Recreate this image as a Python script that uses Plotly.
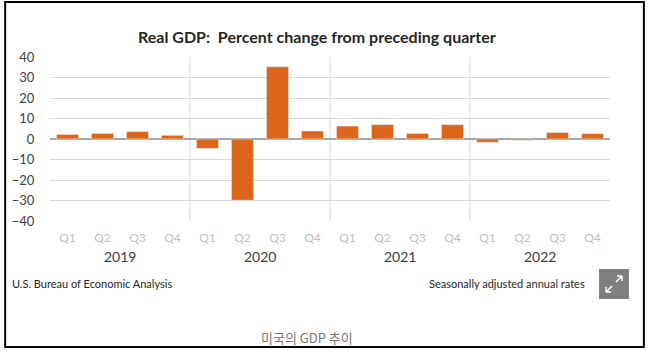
import plotly.graph_objects as go

years = ["2019", "2020", "2021", "2022"]
quarters = ["Q1", "Q2", "Q3", "Q4"]
values = [2.2, 2.7, 3.6, 1.8,
          -4.6, -29.9, 35.3, 3.9,
          6.3, 7.0, 2.7, 7.0,
          -1.6, -0.6, 3.2, 2.6]
y_ticks = [40, 30, 20, 10, 0, -10, -20, -30, -40]

W, H = 649, 351
L, R, T, B = 48, 39, 57, 130
PW, PH = W - L - R, H - T - B

def px(x, y):
    return (x - L) / PW, (H - B - y) / PH

n = len(values)
xs = list(range(n))
labels = [q for _ in years for q in quarters]

fig = go.Figure(go.Bar(x=xs, y=values, marker_color="#DE661C", width=0.63))

FONT = "Lato"
shapes = []
# year separators
for i in range(1, len(years)):
    xb = i * len(quarters) - 0.5
    shapes.append(dict(type="line", xref="x", yref="paper", x0=xb, x1=xb, y0=0, y1=1,
                       line=dict(color="#d9d9d9", width=1), layer="below"))
# border
bx0, by0 = px(3, 347)
bx1, by1 = px(644, 2)
shapes.append(dict(type="rect", xref="paper", yref="paper", x0=bx0, y0=by0, x1=bx1, y1=by1,
                   line=dict(color="black", width=2)))
# expand icon
ix0, iy0 = px(599, 299)
ix1, iy1 = px(629, 269)
shapes.append(dict(type="rect", xref="paper", yref="paper", x0=ix0, y0=iy0, x1=ix1, y1=iy1,
                   fillcolor="#7f7f7f", line=dict(width=0)))
def seg(a, b):
    x0, y0 = px(*a); x1, y1 = px(*b)
    return dict(type="line", xref="paper", yref="paper", x0=x0, y0=y0, x1=x1, y1=y1,
                line=dict(color="white", width=1.5))
shapes += [seg((616, 282), (622, 276)), seg((617, 276), (622, 276)), seg((622, 276), (622, 281)),
           seg((606, 292), (612, 286)), seg((606, 292), (611, 292)), seg((606, 292), (606, 287))]

ann = []
for i, yr in enumerate(years):
    xc = i * len(quarters) + (len(quarters) - 1) / 2
    ann.append(dict(x=xc, y=px(0, 256)[1], xref="x", yref="paper", text=yr, showarrow=False,
                    font=dict(family=FONT, size=14, color="#404040"), yanchor="middle"))
ann.append(dict(x=px(316, 0)[0], y=px(0, 37)[1], xref="paper", yref="paper",
                text="<b>Real GDP:  Percent change from preceding quarter</b>", showarrow=False,
                font=dict(family=FONT, size=16, color="#262626"), yanchor="middle"))
ann.append(dict(x=px(8, 0)[0], y=px(0, 283)[1], xref="paper", yref="paper", xanchor="left",
                text="U.S. Bureau of Economic Analysis", showarrow=False,
                font=dict(family=FONT, size=11, color="#262626"), yanchor="middle"))
ann.append(dict(x=px(587, 0)[0], y=px(0, 283)[1], xref="paper", yref="paper", xanchor="right",
                text="Seasonally adjusted annual rates", showarrow=False,
                font=dict(family=FONT, size=11, color="#262626"), yanchor="middle"))
ann.append(dict(x=px(306, 0)[0], y=px(0, 337)[1], xref="paper", yref="paper",
                text="미국의 GDP 추이", showarrow=False,
                font=dict(family="Noto Sans CJK KR", size=13, color="#777777"), yanchor="middle"))

fig.update_layout(
    width=W, height=H, margin=dict(l=L, r=R, t=T, b=B),
    paper_bgcolor="white", plot_bgcolor="white",
    showlegend=False, shapes=shapes, annotations=ann,
    xaxis=dict(range=[-0.5, n - 0.5], tickvals=xs, ticktext=labels, showgrid=False,
               zeroline=False, ticks="outside", ticklen=6, tickcolor="rgba(0,0,0,0)",
               tickfont=dict(family=FONT, size=12, color="#bfbfbf")),
    yaxis=dict(range=[-40, 40], tickvals=y_ticks, showgrid=True, gridcolor="#d9d9d9",
               gridwidth=1, zeroline=True, zerolinecolor="#a6a6a6", zerolinewidth=1.5,
               ticks="outside", ticklen=12, tickcolor="rgba(0,0,0,0)",
               tickfont=dict(family=FONT, size=13, color="#404040")),
)
fig.write_html("out.html")
